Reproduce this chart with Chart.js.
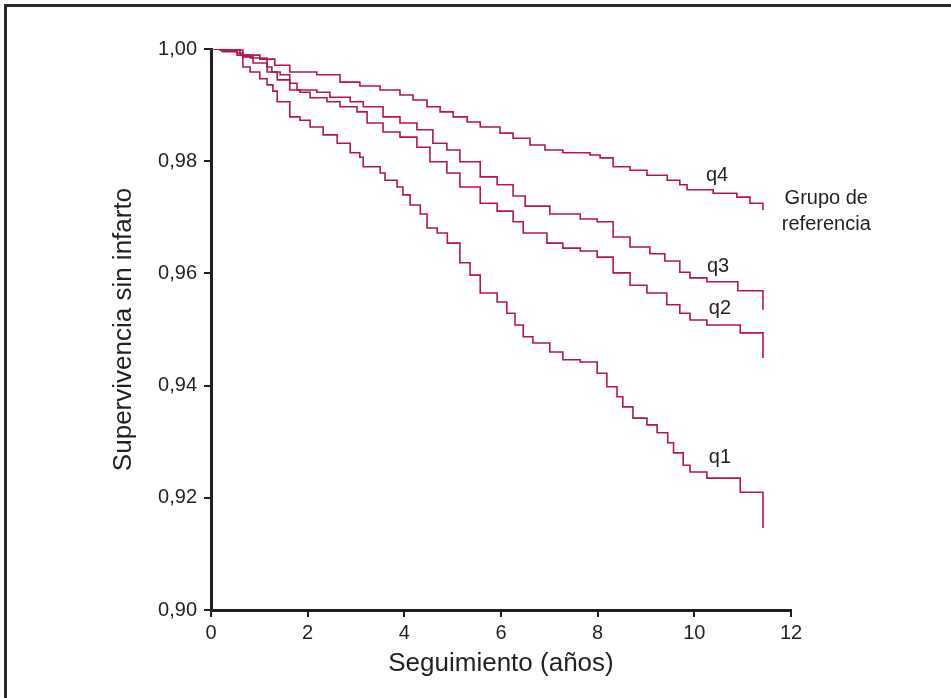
<!DOCTYPE html>
<html>
<head>
<meta charset="utf-8">
<script src="https://cdn.jsdelivr.net/npm/chart.js@4.4.1/dist/chart.umd.min.js"></script>
<style>
    html, body { margin: 0; padding: 0; background: #fff; }
    body { width: 951px; height: 698px; position: relative; overflow: hidden; }
    /* frame only shows on top and left edges in the original */
    .frame {
        position: absolute; left: 4px; top: 4px; right: -10px; bottom: -10px;
        border-top: 3px solid #2b2b2b; border-left: 3px solid #2b2b2b;
    }
    #chart { position: absolute; left: 0; top: 0; }
</style>
</head>
<body>
<div class="frame"></div>
<canvas id="chart" width="951" height="698"></canvas>
<script>
(function() {
    'use strict';

    // Kaplan-Meier curves: follow-up time (years) and survival free of infarction
    var q1Years = [0, 0.23, 0.54, 0.66, 0.81, 1.01, 1.16, 1.28, 1.37, 1.63, 1.84, 2.05, 2.32, 2.61, 2.88, 3.08, 3.15, 3.50, 3.60, 3.85,
        3.97, 4.12, 4.33, 4.47, 4.68, 4.89, 5.15, 5.36, 5.57, 5.92, 6.12, 6.29, 6.46, 6.66, 7.01, 7.28, 7.64, 7.99, 8.19, 8.40,
        8.52, 8.73, 9.02, 9.23, 9.45, 9.57, 9.77, 9.91, 10.26, 10.95, 11.42];
    var q1Surv = [1, 0.9995, 0.9989, 0.9968, 0.9959, 0.9947, 0.9936, 0.9925, 0.9906, 0.9879, 0.9873, 0.9861, 0.9847, 0.9832, 0.9815, 0.9807, 0.9790, 0.9779, 0.9766, 0.9754,
        0.9740, 0.9722, 0.9706, 0.9681, 0.9672, 0.9654, 0.9619, 0.9597, 0.9565, 0.9549, 0.9529, 0.9508, 0.9487, 0.9476, 0.9460, 0.9446, 0.9442, 0.9422, 0.9398, 0.9380,
        0.9362, 0.9342, 0.9330, 0.9316, 0.9298, 0.9280, 0.9258, 0.9246, 0.9235, 0.9210, 0.9146];

    var q2Years = [0, 0.29, 0.54, 0.66, 0.87, 1.16, 1.37, 1.63, 1.84, 2.05, 2.40, 2.67, 3.02, 3.23, 3.56, 3.91, 4.26, 4.53, 4.88, 5.15,
        5.57, 5.92, 6.25, 6.46, 6.95, 7.28, 7.64, 7.99, 8.32, 8.67, 9.02, 9.43, 9.70, 9.91, 10.26, 10.95, 11.42];
    var q2Surv = [1, 0.9996, 0.9993, 0.9986, 0.9975, 0.9959, 0.9945, 0.9927, 0.9923, 0.9913, 0.9906, 0.9897, 0.9888, 0.9868, 0.9852, 0.9843, 0.9825, 0.9799, 0.9779, 0.9754,
        0.9725, 0.9711, 0.9692, 0.9672, 0.9654, 0.9645, 0.9640, 0.9629, 0.9601, 0.9579, 0.9565, 0.9544, 0.9529, 0.9517, 0.9508, 0.9494, 0.9449];

    var q3Years = [0, 0.19, 0.66, 0.81, 1.16, 1.26, 1.43, 1.63, 1.78, 2.19, 2.46, 2.88, 3.15, 3.56, 3.91, 4.26, 4.59, 4.88, 5.15, 5.57,
        5.92, 6.25, 6.50, 7.01, 7.64, 7.99, 8.32, 8.67, 9.08, 9.39, 9.70, 9.91, 10.26, 10.90, 11.42];
    var q3Surv = [1, 0.9998, 0.9989, 0.9984, 0.9968, 0.9959, 0.9954, 0.9939, 0.9927, 0.9923, 0.9914, 0.9906, 0.9897, 0.9879, 0.9868, 0.9856, 0.9832, 0.9820, 0.9799, 0.9772,
        0.9758, 0.9738, 0.9720, 0.9706, 0.9697, 0.9692, 0.9665, 0.9647, 0.9635, 0.9622, 0.9602, 0.9592, 0.9585, 0.9569, 0.9535];

    var q4Years = [0, 0.39, 0.60, 1.01, 1.32, 1.63, 2.19, 2.67, 3.08, 3.50, 3.91, 4.18, 4.47, 4.74, 5.01, 5.30, 5.57, 5.98, 6.25, 6.60,
        6.91, 7.28, 7.84, 8.05, 8.32, 8.67, 9.02, 9.44, 9.70, 9.85, 10.39, 10.88, 11.15, 11.42];
    var q4Surv = [1, 0.9998, 0.9989, 0.9982, 0.9971, 0.9959, 0.9954, 0.9941, 0.9934, 0.9927, 0.9918, 0.9909, 0.9897, 0.9888, 0.9879, 0.9870, 0.9861, 0.9850, 0.9841, 0.9829,
        0.9820, 0.9815, 0.9811, 0.9806, 0.9790, 0.9784, 0.9775, 0.9766, 0.9758, 0.9749, 0.9743, 0.9736, 0.9725, 0.9713];

    var xTicks = [0, 2, 4, 6, 8, 10, 12];
    var yTicks = [0.90, 0.92, 0.94, 0.96, 0.98, 1.00];

    // curve labels, placed in data units
    var noteText = ['q4', 'q3', 'q2', 'q1', 'Grupo de', 'referencia'];
    var noteX = [10.47, 10.49, 10.53, 10.53, 12.73, 12.73];
    var noteY = [0.9775, 0.9613, 0.9537, 0.9271, 0.9734, 0.9688];

    var LINE = '#b5174a';
    var INK = '#231f20';
    var FONT = "'Liberation Sans', Arial, Helvetica, sans-serif";

    function toPoints(xs, ys) {
        return xs.map(function(x, i) { return { x: x, y: ys[i] }; });
    }

    function curve(label, xs, ys) {
        return {
            label: label,
            data: toPoints(xs, ys),
            borderColor: LINE,
            borderWidth: 1.6,
            stepped: 'before',
            fill: false,
            pointRadius: 0,
            borderJoinStyle: 'miter'
        };
    }

    var notesPlugin = {
        id: 'curveNotes',
        afterDatasetsDraw: function(chart) {
            var ctx = chart.ctx;
            var xs = chart.scales.x, ys = chart.scales.y;
            ctx.save();
            ctx.fillStyle = INK;
            ctx.font = '20px ' + FONT;
            ctx.textAlign = 'center';
            ctx.textBaseline = 'middle';
            noteText.forEach(function(t, i) {
                ctx.fillText(t, xs.getPixelForValue(noteX[i]), ys.getPixelForValue(noteY[i]));
            });
            ctx.restore();
        }
    };

    new Chart(document.getElementById('chart').getContext('2d'), {
        type: 'line',
        data: {
            datasets: [
                curve('q4', q4Years, q4Surv),
                curve('q3', q3Years, q3Surv),
                curve('q2', q2Years, q2Surv),
                curve('q1', q1Years, q1Surv)
            ]
        },
        options: {
            responsive: false,
            animation: false,
            events: [],
            layout: { padding: { top: 49, right: 160, bottom: 0, left: 0 } },
            plugins: {
                legend: { display: false },
                tooltip: { enabled: false }
            },
            scales: {
                x: {
                    type: 'linear',
                    min: 0,
                    max: 12,
                    afterBuildTicks: function(s) {
                        s.ticks = xTicks.map(function(v) { return { value: v }; });
                    },
                    afterFit: function(s) { s.height = 88; },
                    ticks: {
                        color: INK,
                        padding: 4,
                        maxRotation: 0,
                        font: { family: FONT, size: 20 }
                    },
                    grid: { drawOnChartArea: false, tickLength: 7, color: INK, lineWidth: 2 },
                    border: { color: INK, width: 3 },
                    title: {
                        display: true,
                        text: 'Seguimiento (años)',
                        color: INK,
                        font: { family: FONT, size: 26 },
                        padding: { top: 0, bottom: 19 }
                    }
                },
                y: {
                    min: 0.9,
                    max: 1.0,
                    afterBuildTicks: function(s) {
                        s.ticks = yTicks.map(function(v) { return { value: v }; });
                    },
                    afterFit: function(s) { s.width = 211; },
                    ticks: {
                        color: INK,
                        padding: 7,
                        font: { family: FONT, size: 20 },
                        callback: function(v) { return v.toFixed(2).replace('.', ','); }
                    },
                    grid: { drawOnChartArea: false, tickLength: 7, color: INK, lineWidth: 2 },
                    border: { color: INK, width: 3 },
                    title: {
                        display: true,
                        text: 'Supervivencia sin infarto',
                        color: INK,
                        font: { family: FONT, size: 26 },
                        padding: { top: 108, bottom: 0 }
                    }
                }
            }
        },
        plugins: [notesPlugin]
    });
})();
</script>
</body>
</html>
